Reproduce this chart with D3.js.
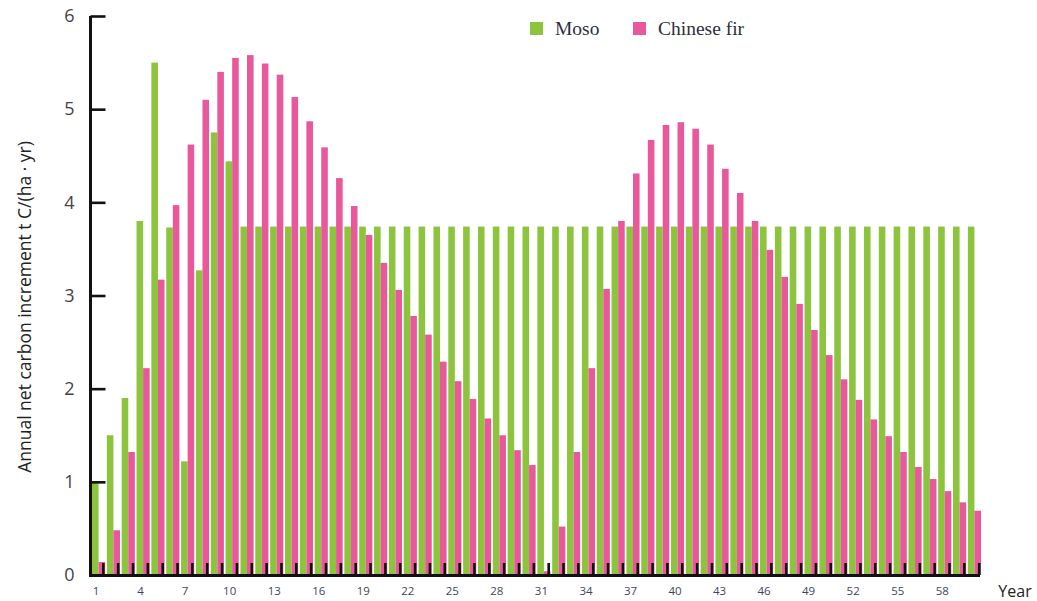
<!DOCTYPE html>
<html>
<head>
<meta charset="utf-8">
<script src="https://cdn.jsdelivr.net/npm/d3@7"></script>
<style>
  html, body { margin: 0; padding: 0; background: #fff; }
  svg { display: block; }
</style>
</head>
<body>
<svg id="chart" width="1037" height="601"></svg>
<script>
// ---- data ----
const years = d3.range(1, 61);
const seriesNames = ["Moso", "Chinese fir"];
const moso = [1.0, 1.5, 1.9, 3.8, 5.5, 3.73, 1.22, 3.27, 4.75, 4.44,
  3.74, 3.74, 3.74, 3.74, 3.74, 3.74, 3.74, 3.74, 3.74, 3.74,
  3.74, 3.74, 3.74, 3.74, 3.74, 3.74, 3.74, 3.74, 3.74, 3.74,
  3.74, 3.74, 3.74, 3.74, 3.74, 3.74, 3.74, 3.74, 3.74, 3.74,
  3.74, 3.74, 3.74, 3.74, 3.74, 3.74, 3.74, 3.74, 3.74, 3.74,
  3.74, 3.74, 3.74, 3.74, 3.74, 3.74, 3.74, 3.74, 3.74, 3.74];
const chineseFir = [0.14, 0.48, 1.32, 2.22, 3.17, 3.97, 4.62, 5.1, 5.4, 5.55,
  5.58, 5.49, 5.37, 5.13, 4.87, 4.59, 4.26, 3.96, 3.65, 3.35,
  3.06, 2.78, 2.58, 2.29, 2.08, 1.89, 1.68, 1.5, 1.34, 1.18,
  0.04, 0.52, 1.32, 2.22, 3.07, 3.8, 4.31, 4.67, 4.83, 4.86,
  4.79, 4.62, 4.36, 4.1, 3.8, 3.49, 3.2, 2.91, 2.63, 2.36,
  2.1, 1.88, 1.67, 1.49, 1.32, 1.16, 1.03, 0.9, 0.78, 0.69];
const yTicks = [0, 1, 2, 3, 4, 5, 6];
const xTickLabels = d3.range(1, 60, 3);

// ---- layout ----
const svg = d3.select("#chart");
const colors = { "Moso": "#8cc43e", "Chinese fir": "#e8589b" };

const x0 = d3.scaleBand().domain(years).range([92, 981]).paddingInner(0.115).paddingOuter(0);
const x1 = d3.scaleBand().domain(seriesNames).range([0, x0.bandwidth()]).padding(0);
const y = d3.scaleLinear().domain([0, 6]).range([575, 16]);

const rows = years.map((yr, i) => ({ year: yr, "Moso": moso[i], "Chinese fir": chineseFir[i] }));

// bars
const g = svg.append("g");
const groups = g.selectAll("g.yr").data(rows).join("g")
  .attr("transform", d => `translate(${x0(d.year)},0)`);
groups.selectAll("rect").data(d => seriesNames.map(k => ({ key: k, value: d[k] }))).join("rect")
  .attr("x", d => x1(d.key))
  .attr("width", x1.bandwidth())
  .attr("y", d => y(d.value))
  .attr("height", d => y(0) - y(d.value))
  .attr("fill", d => colors[d.key]);

// small x ticks at each year (over the bars)
svg.append("g").selectAll("line").data(years).join("line")
  .attr("x1", d => x0(d) + x0.bandwidth() - 1.8)
  .attr("x2", d => x0(d) + x0.bandwidth() - 1.8)
  .attr("y1", 575).attr("y2", 563)
  .attr("stroke", "#111").attr("stroke-width", 2.6);

// x axis line
svg.append("line").attr("x1", 89).attr("x2", 980).attr("y1", 575.5).attr("y2", 575.5)
  .attr("stroke", "#111").attr("stroke-width", 3);

// x tick labels
svg.append("g").selectAll("text").data(xTickLabels).join("text")
  .attr("x", d => x0(d) + x0.bandwidth() / 2 - 2.5)
  .attr("y", 595)
  .attr("text-anchor", "middle")
  .attr("font-family", "Open Sans, sans-serif")
  .attr("font-size", 11.5)
  .attr("fill", "#3d4660")
  .text(d => d);

// y axis
const yAxis = d3.axisLeft(y).tickValues(yTicks).tickSize(-15).tickPadding(28).tickFormat(d3.format("d"));
const ya = svg.append("g").attr("transform", "translate(90.5,0)").call(yAxis);
ya.select(".domain").attr("stroke", "#111").attr("stroke-width", 3).attr("d", "M0,16V576");
ya.selectAll(".tick line").attr("stroke", "#111").attr("stroke-width", 2.6);
ya.selectAll(".tick").filter(d => d === 0).select("line").remove();
ya.selectAll(".tick text")
  .attr("font-family", "Open Sans, sans-serif")
  .attr("font-size", 18)
  .attr("fill", "#444")
  .attr("dx", "12");

// y title
svg.append("text")
  .attr("transform", "translate(31,307) rotate(-90)")
  .attr("text-anchor", "middle")
  .attr("font-family", "Open Sans, sans-serif")
  .attr("font-size", 17.5)
  .attr("fill", "#222")
  .text("Annual net carbon increment t C/(ha · yr)");

// x title
svg.append("text")
  .attr("x", 1015).attr("y", 597)
  .attr("text-anchor", "middle")
  .attr("font-family", "Open Sans, sans-serif")
  .attr("font-size", 16)
  .attr("fill", "#222")
  .text("Year");

// legend
const legendX = [530, 633];
const lg = svg.append("g").selectAll("g").data(seriesNames).join("g")
  .attr("transform", (d, i) => `translate(${legendX[i]},22)`);
lg.append("rect").attr("width", 13).attr("height", 13).attr("fill", d => colors[d]);
lg.append("text").attr("x", 25).attr("y", 13)
  .attr("font-family", "Liberation Serif, serif")
  .attr("font-size", 19.5)
  .attr("fill", "#2b3040")
  .text(d => d);
</script>
</body>
</html>
